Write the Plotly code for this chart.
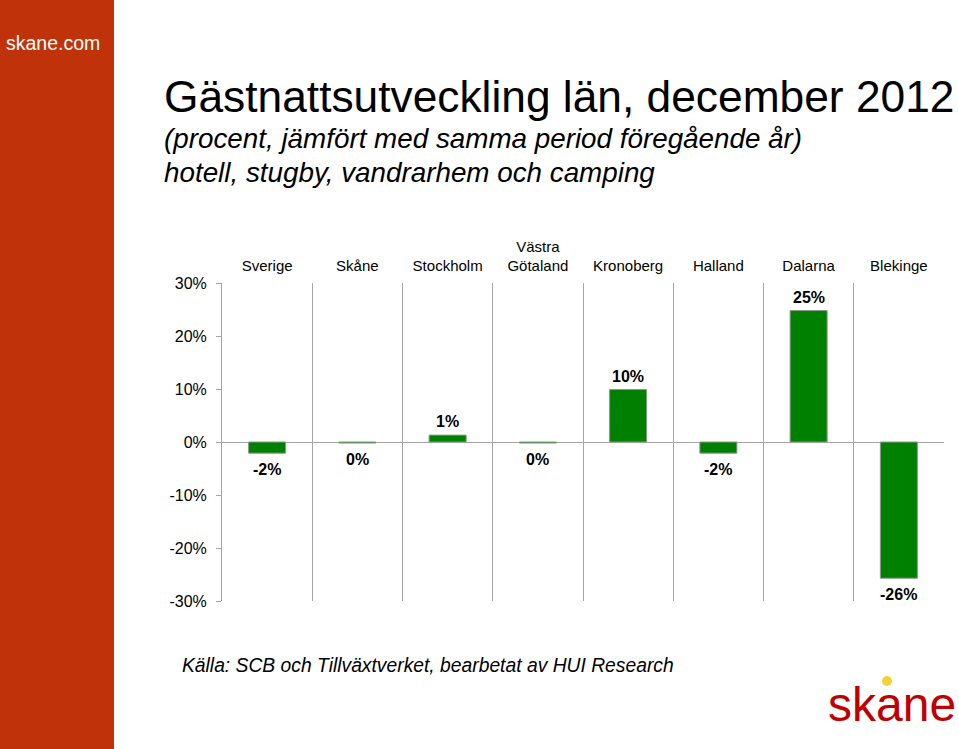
import plotly.graph_objects as go

categories = ["Sverige", "Skåne", "Stockholm", "Västra<br>Götaland", "Kronoberg", "Halland", "Dalarna", "Blekinge"]
values = [-2.1, -0.2, 1.3, -0.2, 9.9, -2.1, 24.8, -25.7]
y_ticks = [-30, -20, -10, 0, 10, 20, 30]

labels = ["<b>%d%%</b>" % int(round(v)) for v in values]

FONT = "Liberation Sans, Arial, sans-serif"
W, H = 959, 749
L, R, T, B = 222, 15, 283, 148
PW, PH = W - L - R, H - T - B


def px(x):
    return (x - L) / PW


def py(y):
    return (H - B - y) / PH


fig = go.Figure()
fig.add_trace(go.Bar(
    x=categories, y=values,
    width=0.41,
    marker=dict(color="#008000", line=dict(color="#8a9a8a", width=1)),
    hoverinfo="skip",
))

# data labels, anchored to each bar end through the axes
for c, v, t in zip(categories, values, labels):
    neg = v < 0
    fig.add_annotation(x=c, y=v, xref="x", yref="y", text=t, showarrow=False,
                       yanchor="top" if neg else "bottom",
                       yshift=-6 if neg else 3,
                       font=dict(family=FONT, size=16, color="#000000"))

fig.update_layout(
    width=W, height=H,
    margin=dict(l=L, r=R, t=T, b=B, pad=0),
    paper_bgcolor="white", plot_bgcolor="white",
    showlegend=False,
    bargap=0.59,
    font=dict(family=FONT, color="#000000"),
    xaxis=dict(
        type="category", side="top", tickson="boundaries",
        showgrid=True, gridcolor="#a6a6a6", gridwidth=1,
        showline=False, ticks="", zeroline=False,
        tickfont=dict(family=FONT, size=15, color="#000000"),
        ticklabelstandoff=8,
    ),
    yaxis=dict(
        range=[-30, 30], tickvals=y_ticks, ticktext=["%d%%" % v for v in y_ticks],
        showgrid=False, zeroline=True, zerolinecolor="#a6a6a6", zerolinewidth=1,
        showline=True, linecolor="#a6a6a6", linewidth=1,
        ticks="outside", ticklen=5, tickcolor="#a6a6a6",
        tickfont=dict(family=FONT, size=16, color="#000000"),
        ticklabelstandoff=6,
    ),
)

# left red band
fig.add_shape(type="rect", xref="paper", yref="paper",
              x0=px(0), x1=px(114), y0=py(H + 5), y1=py(-5),
              fillcolor="#c0330a", line=dict(width=0), layer="below")

ann = [
    dict(text="skane.com", x=px(4), y=py(43), size=19.5, color="white"),
    dict(text="Gästnattsutveckling län, december 2012", x=px(162), y=py(97), size=44.3, color="#000000"),
    dict(text="<i>(procent, jämfört med samma period föregående år)</i>", x=px(162), y=py(138), size=27.8, color="#000000"),
    dict(text="<i>hotell, stugby, vandrarhem och camping</i>", x=px(162), y=py(172), size=27.8, color="#000000"),
    dict(text="<i>Källa: SCB och Tillväxtverket, bearbetat av HUI Research</i>", x=px(180), y=py(665), size=19.3, color="#000000"),
    dict(text="skane", x=px(826), y=py(704), size=48, color="#c00000"),
]
for a in ann:
    fig.add_annotation(text=a["text"], x=a["x"], y=a["y"], xref="paper", yref="paper",
                       xanchor="left", yanchor="middle", showarrow=False,
                       font=dict(family=FONT, size=a["size"], color=a["color"]))

# yellow dot of the logo
fig.add_shape(type="circle", xref="paper", yref="paper",
              x0=px(882), x1=px(892), y0=py(686), y1=py(676),
              fillcolor="#f5d233", line=dict(width=0))

fig.write_html("out.html", config={"displayModeBar": False},
               post_script="document.body.style.margin='0';document.body.style.overflow='hidden';")
